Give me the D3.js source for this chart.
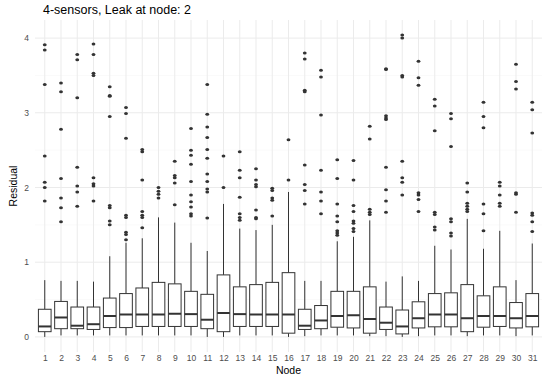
<html>
<head>
<script src="https://d3js.org/d3.v7.min.js"></script>
<style>
  body { margin: 0; background: #fff; }
  text { font-family: "Liberation Sans", Arial, sans-serif; }
</style>
</head>
<body>
<script>
// values
var nodes = d3.range(1, 32).map(String);
var whiskerLow = [0.00,0.02,0.02,0.02,0.02,0.02,0.02,0.02,0.02,0.02,0.00,0.00,0.02,0.02,0.02,
                  0.00,0.01,0.02,0.02,0.02,0.01,0.01,0.00,0.01,0.02,0.02,0.01,0.02,0.02,0.01,0.02];
var q1 = [0.07,0.11,0.11,0.10,0.125,0.125,0.14,0.14,0.14,0.14,0.11,0.07,0.14,0.14,0.14,
          0.05,0.10,0.11,0.13,0.12,0.05,0.10,0.04,0.12,0.135,0.135,0.07,0.13,0.14,0.12,0.135];
var medians = [0.14,0.26,0.15,0.17,0.28,0.30,0.30,0.30,0.31,0.305,0.23,0.32,0.305,0.30,0.30,
               0.30,0.15,0.22,0.28,0.29,0.24,0.19,0.14,0.25,0.30,0.30,0.25,0.28,0.28,0.25,0.28];
var q3 = [0.37,0.475,0.40,0.40,0.52,0.58,0.655,0.73,0.71,0.61,0.57,0.83,0.67,0.70,0.73,
          0.86,0.37,0.42,0.61,0.61,0.67,0.40,0.36,0.47,0.58,0.59,0.70,0.55,0.67,0.46,0.58];
var whiskerHigh = [0.76,0.75,0.75,0.74,1.08,1.26,1.32,1.60,1.53,1.26,1.15,1.78,1.45,1.43,1.50,
                   1.94,0.75,0.75,1.28,1.34,1.56,0.74,0.81,0.75,1.22,1.17,1.58,1.18,1.42,0.76,1.25];
var outliers = [
  [3.91,3.84,3.38,2.42,2.07,2.00,1.82],
  [3.40,3.28,2.78,2.12,1.86,1.73,1.54],
  [3.78,3.71,3.20,2.27,2.02,1.94,1.75],
  [3.92,3.78,3.53,3.50,2.13,2.05,2.02,1.82],
  [3.35,3.23,3.22,2.95,1.76,1.73,1.55,1.50],
  [3.07,2.99,2.66,1.63,1.60,1.40,1.37,1.30],
  [2.51,2.48,2.10,1.68,1.63,1.60,1.46],
  [2.00,1.95,1.91,1.86],
  [2.35,2.16,2.13,2.06,1.77],
  [2.79,2.50,2.43,2.31,2.08,1.90,1.81,1.74,1.65,1.62],
  [3.38,2.98,2.81,2.67,2.51,2.39,2.18,2.08,1.98,1.94,1.59],
  [2.42,2.00],
  [2.48,2.23,2.13,1.87,1.65,1.60,1.56],
  [2.25,2.10,2.04,2.01,1.70,1.60,1.58],
  [1.99,1.96,1.86,1.83,1.62],
  [2.64,2.10],
  [3.80,3.72,3.30,3.28,2.30,2.04,1.96,1.78],
  [3.57,3.48,2.97,2.23,1.94,1.82,1.65],
  [2.37,2.12,1.78,1.62,1.54,1.42,1.39,1.36],
  [2.36,2.10,1.76,1.68,1.55,1.52,1.45,1.41],
  [2.82,2.65,1.71,1.67,1.64],
  [3.59,3.58,2.96,2.93,2.91,2.27,1.97,1.82,1.67],
  [4.04,4.00,3.50,3.48,2.35,2.13,2.07,1.90],
  [3.69,3.47,3.37,1.93,1.90,1.84,1.68],
  [3.18,3.09,2.76,1.67,1.64,1.47,1.43],
  [2.99,2.92,2.55,1.58,1.54,1.39,1.35],
  [2.06,1.94,1.79,1.75,1.71,1.68],
  [3.14,2.95,2.80,1.78,1.65,1.42],
  [2.07,2.02,1.90,1.79,1.75],
  [3.65,3.42,3.32,1.93,1.91,1.67],
  [3.14,3.04,2.73,1.66,1.63,1.54,1.41]
];
var yTicks = [0, 1, 2, 3, 4];

var width = 550, height = 377;
var margin = {top: 20, right: 8, bottom: 25, left: 35};

var svg = d3.select("body").append("svg")
    .attr("width", width)
    .attr("height", height);

var x = d3.scalePoint()
    .domain(nodes)
    .range([margin.left, width - margin.right])
    .padding(0.6);

var y = d3.scaleLinear()
    .domain([-0.202, 4.242])
    .range([height - margin.bottom, margin.top]);

var boxW = x.step() * 0.78;

// grid
var grid = svg.append("g");
grid.selectAll(".minor")
    .data([0.5, 1.5, 2.5, 3.5])
    .enter().append("line")
    .attr("x1", margin.left).attr("x2", width - margin.right)
    .attr("y1", d => y(d)).attr("y2", d => y(d))
    .attr("stroke", "#f4f4f4").attr("stroke-width", 0.5);
grid.selectAll(".hmajor")
    .data(yTicks)
    .enter().append("line")
    .attr("x1", margin.left).attr("x2", width - margin.right)
    .attr("y1", d => y(d)).attr("y2", d => y(d))
    .attr("stroke", "#ebebeb").attr("stroke-width", 1);
grid.selectAll(".vmajor")
    .data(nodes)
    .enter().append("line")
    .attr("x1", d => x(d)).attr("x2", d => x(d))
    .attr("y1", margin.top).attr("y2", height - margin.bottom)
    .attr("stroke", "#ebebeb").attr("stroke-width", 1);

// boxes
var boxes = svg.append("g").selectAll("g")
    .data(nodes)
    .enter().append("g");

boxes.append("line")
    .attr("x1", d => x(d)).attr("x2", d => x(d))
    .attr("y1", (d, i) => y(q3[i])).attr("y2", (d, i) => y(whiskerHigh[i]))
    .attr("stroke", "#333").attr("stroke-width", 1);
boxes.append("line")
    .attr("x1", d => x(d)).attr("x2", d => x(d))
    .attr("y1", (d, i) => y(q1[i])).attr("y2", (d, i) => y(whiskerLow[i]))
    .attr("stroke", "#333").attr("stroke-width", 1);
boxes.append("rect")
    .attr("x", d => x(d) - boxW / 2)
    .attr("width", boxW)
    .attr("y", (d, i) => y(q3[i]))
    .attr("height", (d, i) => y(q1[i]) - y(q3[i]))
    .attr("fill", "#fff")
    .attr("stroke", "#333").attr("stroke-width", 1);
boxes.append("line")
    .attr("x1", d => x(d) - boxW / 2).attr("x2", d => x(d) + boxW / 2)
    .attr("y1", (d, i) => y(medians[i])).attr("y2", (d, i) => y(medians[i]))
    .attr("stroke", "#333").attr("stroke-width", 2);
boxes.selectAll("ellipse")
    .data((d, i) => outliers[i].map(v => ({node: d, v: v})))
    .enter().append("ellipse")
    .attr("cx", d => x(d.node))
    .attr("cy", d => y(d.v))
    .attr("rx", 1.9).attr("ry", 1.5)
    .attr("fill", "#333");

// axes
var xAxis = svg.append("g")
    .attr("transform", "translate(0," + (height - margin.bottom) + ")")
    .call(d3.axisBottom(x).tickSize(0).tickPadding(3));
xAxis.select(".domain").remove();
xAxis.selectAll("text").attr("font-size", 8.5).attr("fill", "#4d4d4d")
    .style("font-family", "Liberation Sans, Arial, sans-serif");

var yAxis = svg.append("g")
    .attr("transform", "translate(" + margin.left + ",0)")
    .call(d3.axisLeft(y).tickValues(yTicks).tickFormat(d3.format("d")).tickSize(0).tickPadding(6));
yAxis.select(".domain").remove();
yAxis.selectAll("text").attr("font-size", 8.5).attr("fill", "#4d4d4d")
    .style("font-family", "Liberation Sans, Arial, sans-serif");

// titles
svg.append("text")
    .attr("x", 43).attr("y", 14)
    .attr("font-size", 12.5)
    .attr("fill", "#000")
    .text("4-sensors, Leak at node: 2");

svg.append("text")
    .attr("x", (margin.left + width - margin.right) / 2)
    .attr("y", 374)
    .attr("text-anchor", "middle")
    .attr("font-size", 10.5)
    .attr("fill", "#000")
    .text("Node");

svg.append("text")
    .attr("transform", "translate(17," + ((margin.top + height - margin.bottom) / 2) + ") rotate(-90)")
    .attr("text-anchor", "middle")
    .attr("font-size", 10.5)
    .attr("fill", "#000")
    .text("Residual");
</script>
</body>
</html>
